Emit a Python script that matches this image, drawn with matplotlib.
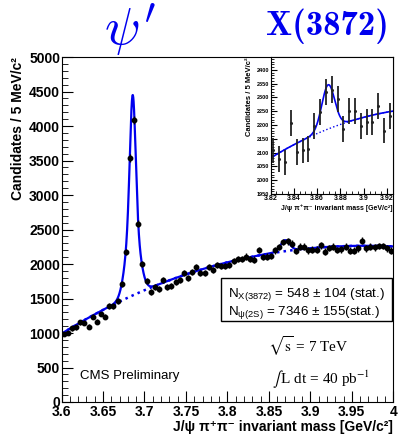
import numpy as np
import matplotlib.pyplot as plt
from matplotlib.ticker import MultipleLocator, FixedLocator
from matplotlib.patches import Rectangle

plt.rcParams['font.family'] = ['Liberation Sans', 'DejaVu Sans']
plt.rcParams['mathtext.fontset'] = 'custom'
plt.rcParams['mathtext.rm'] = 'Liberation Sans'
plt.rcParams['mathtext.it'] = 'Liberation Sans:italic'
plt.rcParams['mathtext.bf'] = 'Liberation Sans:bold'

# J/psi pi+ pi- mass histogram, 5 MeV bins starting at 3.6 GeV
mass_lo = 3.6
bin_width = 0.005
counts = [981, 1004, 1068, 1082, 1155, 1149, 1091, 1236, 1164, 1275,
          1236, 1391, 1391, 1464, 1715, 2172, 3540, 4087, 2580, 2000,
          1754, 1592, 1671, 1642, 1768, 1671, 1686, 1743, 1768, 1865,
          1802, 1889, 1951, 1874, 1865, 1961, 1913, 1986, 1971, 1971,
          1986, 2040, 2068, 2072, 2108, 2077, 2065, 2206, 2102, 2108,
          2113, 2198, 2246, 2320, 2328, 2294, 2186, 2252, 2252, 2198,
          2210, 2210, 2270, 2180, 2234, 2251, 2203, 2213, 2251, 2193,
          2193, 2227, 2338, 2227, 2251, 2242, 2261, 2261, 2227, 2193]

# fit model: cubic background in (m - 3.6) + double gaussian psi(2S) + gaussian X(3872)
bkg_coef = [990, 7508, -12486, 4056]
psi_mass, psi_amp, psi_frac, psi_sig1, psi_sig2 = 3.6858, 2904, 0.6, 0.0033, 0.0075
x_mass, x_amp, x_sig = 3.8695, 160, 0.0055

counts = np.array(counts, dtype=float)
centers = mass_lo + bin_width * (np.arange(len(counts)) + 0.5)
errors = np.sqrt(counts)


def background(m):
    t = m - mass_lo
    return sum(c * t**i for i, c in enumerate(bkg_coef))


def total(m):
    psi = psi_amp * (psi_frac * np.exp(-0.5 * ((m - psi_mass) / psi_sig1)**2)
                     + (1 - psi_frac) * np.exp(-0.5 * ((m - psi_mass) / psi_sig2)**2))
    x = x_amp * np.exp(-0.5 * ((m - x_mass) / x_sig)**2)
    return background(m) + psi + x


mm = np.linspace(3.6, 4.0, 2000)
blue = '#0000ee'

fig = plt.figure(figsize=(4.05, 4.42), dpi=100)
ax = fig.add_axes([0.152, 0.0905, 0.819, 0.7805])

ax.plot(mm, background(mm), ':', color=blue, lw=1.8)
ax.plot(mm, total(mm), '-', color=blue, lw=1.6)
ax.errorbar(centers, counts, yerr=errors, fmt='o', color='black', ms=3.2,
            elinewidth=1, capsize=0, zorder=3)

ax.set_xlim(3.6, 4.0)
ax.set_ylim(0, 5000)
xt = [3.6, 3.65, 3.7, 3.75, 3.8, 3.85, 3.9, 3.95, 4.0]
ax.xaxis.set_major_locator(FixedLocator(xt))
ax.set_xticklabels(['3.6', '3.65', '3.7', '3.75', '3.8', '3.85', '3.9', '3.95', '4'])
ax.xaxis.set_minor_locator(MultipleLocator(0.01))
ax.yaxis.set_major_locator(MultipleLocator(500))
ax.yaxis.set_minor_locator(MultipleLocator(100))
ax.tick_params(which='both', direction='in', top=False, right=False,
               labelsize=10, pad=1)
ax.tick_params(which='major', length=8)
ax.tick_params(which='minor', length=4)
ax.tick_params(axis='x', pad=2)
for lab in ax.get_xticklabels() + ax.get_yticklabels():
    lab.set_fontweight('bold')

ax.set_xlabel('J/ψ π⁺π⁻ invariant mass [GeV/c²]', fontsize=10,
              fontweight='bold', loc='right', labelpad=1)
ax.set_ylabel('Candidates / 5 MeV/c²', fontsize=10, fontweight='bold', loc='top')
ax.yaxis.set_label_coords(-0.11, 1.0)

# inset zoom on the X(3872)
axi = fig.add_axes([0.668, 0.561, 0.302, 0.309])
sel = (centers > 3.82) & (centers < 3.925)
mi = np.linspace(3.82, 3.925, 500)
axi.plot(mi, background(mi), ':', color=blue, lw=1.0)
axi.plot(mi, total(mi), '-', color=blue, lw=1.2)
axi.errorbar(centers[sel], counts[sel], yerr=errors[sel], fmt='o', color='#222222',
             ms=1.2, elinewidth=1.3, capsize=0, zorder=3)
axi.set_xlim(3.82, 3.925)
axi.set_ylim(1950, 2445)
axi.xaxis.set_major_locator(FixedLocator([3.82, 3.84, 3.86, 3.88, 3.9, 3.92]))
axi.set_xticklabels(['3.82', '3.84', '3.86', '3.88', '3.9', '3.92'])
axi.xaxis.set_minor_locator(MultipleLocator(0.005))
axi.yaxis.set_major_locator(MultipleLocator(50))
axi.yaxis.set_minor_locator(MultipleLocator(10))
axi.tick_params(which='both', direction='in', top=False, right=False, pad=1)
axi.tick_params(which='major', length=4)
axi.tick_params(which='minor', length=2)
axi.tick_params(axis='x', labelsize=5, pad=1)
axi.tick_params(axis='y', labelsize=4)
for lab in axi.get_xticklabels() + axi.get_yticklabels():
    lab.set_fontweight('bold')
axi.set_xlabel('J/ψ π⁺π⁻ invariant mass [GeV/c²]', fontsize=5,
               fontweight='bold', loc='right', labelpad=1)
axi.set_ylabel('Candidates / 5 MeV/c²', fontsize=5.5, fontweight='bold', loc='top')
axi.yaxis.set_label_coords(-0.14, 1.0)

# yields box
fig.patches.append(Rectangle((221 / 405, 1 - 321 / 442), 171 / 405, 43 / 442,
                             transform=fig.transFigure, fill=False,
                             edgecolor='black', lw=1))
fig.text(228 / 405, 1 - 297 / 442, r'N$_{\rm X(3872)}$ = 548 ± 104 (stat.)',
         fontsize=9.6, va='baseline')
fig.text(228 / 405, 1 - 315 / 442, r'N$_{\rm \psi(2S)}$ = 7346 ± 155(stat.)',
         fontsize=9.6, va='baseline')

fig.text(80 / 405, 1 - 379 / 442, 'CMS Preliminary', fontsize=9.5)
fig.text(268 / 405, 1 - 352 / 442, r'$\sqrt{\rm s}$ = 7 TeV', fontsize=11,
         family='Liberation Serif', math_fontfamily='stix')
fig.text(272 / 405, 1 - 384 / 442, r'$\int\,$L dt = 40 pb$^{-1}$', fontsize=11,
         family='Liberation Serif', math_fontfamily='stix')

# particle labels above the plot
fig.text(130 / 405, 1 - 30 / 442, r"$\psi'$", fontsize=38, color=blue,
         ha='center', va='center', math_fontfamily='cm')
fig.text(327 / 405, 1 - 26 / 442, 'X(3872)', fontsize=25, color=blue,
         ha='center', va='center', family='cmb10')

fig.savefig('out.png', dpi=100)
